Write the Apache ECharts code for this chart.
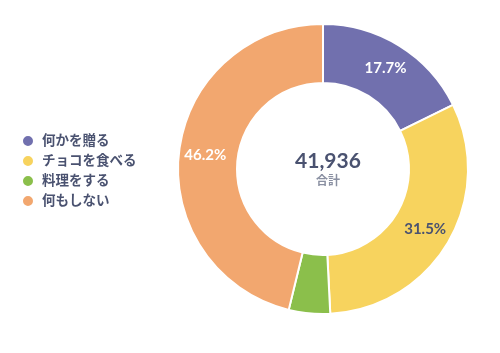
<!DOCTYPE html>
<html><head><meta charset="utf-8">
<script src="https://cdn.jsdelivr.net/npm/echarts@6/dist/echarts.min.js"></script>
<style>html,body{margin:0;padding:0;background:#fff}#c{width:500px;height:353px}</style>
</head><body><div id="c"></div>
<script>
const categories = ['何かを贈る', 'チョコを食べる', '料理をする', '何もしない'];
const values = [7423, 13210, 1929, 19374];
const colors = ['#7170ae', '#f7d35e', '#8bbf4b', '#f2a76f'];
const labelColors = ['#ffffff', '#4a5270', '#ffffff', '#ffffff'];
const totalLabel = '合計';
const total = values.reduce((a, b) => a + b, 0);
const FONT = '"Lato","Noto Sans CJK JP",sans-serif';
const chart = echarts.init(document.getElementById('c'));
chart.setOption({
  animation: false,
  legend: {
    orient: 'vertical', left: 16, top: 129,
    icon: 'circle', itemWidth: 12, itemHeight: 12, itemGap: 6,
    textStyle: { color: '#4a5270', fontSize: 13.5, fontWeight: 'bold', fontFamily: FONT, padding: [0, 0, 0, 3] },
    data: categories
  },
  title: {
    text: total.toLocaleString('en-US'), subtext: totalLabel,
    left: 323, top: 146, textAlign: 'center', itemGap: 3,
    textStyle: { color: '#4a5270', fontSize: 21, fontWeight: 'bold', fontFamily: FONT },
    subtextStyle: { color: '#8a90a2', fontSize: 12, fontWeight: 'bold', fontFamily: FONT }
  },
  series: [{
    type: 'pie', center: [323, 169], radius: [86, 145],
    startAngle: 90, clockwise: true,
    itemStyle: { borderColor: '#fff', borderWidth: 2 },
    label: {
      position: 'inside', fontSize: 15, fontWeight: 'bold', fontFamily: FONT,
      formatter: p => p.percent >= 10 ? p.percent.toFixed(1) + '%' : ''
    },
    labelLine: { show: false },
    emphasis: { disabled: true },
    data: categories.map((n, i) => ({
      name: n, value: values[i],
      itemStyle: { color: colors[i] },
      label: { color: labelColors[i] }
    }))
  }]
});
</script></body></html>
